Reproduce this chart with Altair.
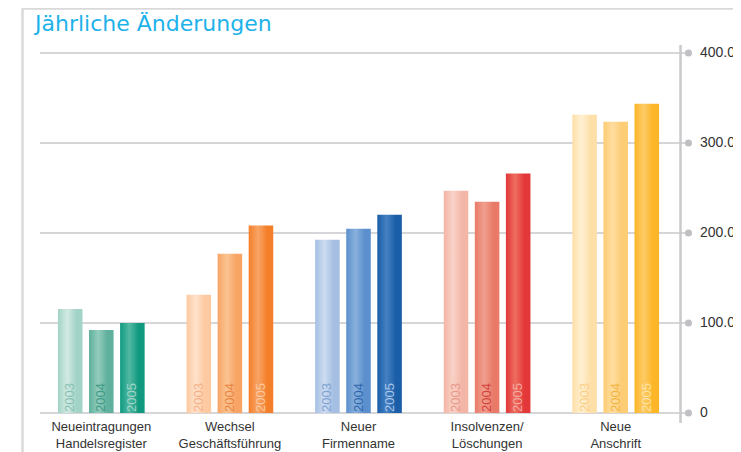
import altair as alt
import pandas as pd

categories = ["Neueintragungen\nHandelsregister", "Wechsel\nGeschäftsführung", "Neuer\nFirmenname",
              "Insolvenzen/\nLöschungen", "Neue\nAnschrift"]
years = ["2003", "2004", "2005"]
values_2003 = [115600, 131400, 192600, 247000, 331400]
values_2004 = [92200, 177000, 204800, 234800, 323700]
values_2005 = [100000, 208400, 220300, 266000, 343700]
tick_values = [0, 100000, 200000, 300000, 400000]
tick_labels = ["0", "100.000", "200.000", "300.000", "400.000"]

# colors per category: (base, highlight) for 2003, 2004, 2005
bar_colors = [
    [("#a3d3c6", "#d2eae3"), ("#5fb09c", "#93ccbd"), ("#0f9a80", "#52b8a2")],
    [("#fdc9a0", "#fee2cc"), ("#f8a464", "#fbc493"), ("#f47f2a", "#f8a466")],
    [("#a5bfe2", "#cddcf0"), ("#5b8fcd", "#8ab1dd"), ("#1a5ea8", "#4580c2")],
    [("#f3b5a6", "#f9d2c7"), ("#e97a68", "#f19f8f"), ("#e3373a", "#ed6e5f")],
    [("#fddfa8", "#fff0d2"), ("#fdcc74", "#fedda0"), ("#fdb627", "#fdcb66")],
]
text_colors = [
    ["#86c2b1", "#3f9a84", "#9fd6c8"],
    ["#f6b085", "#ea8440", "#fcc9a0"],
    ["#7fa3d4", "#2e67ae", "#a9c4e8"],
    ["#e8998a", "#d2433c", "#f6aaa0"],
    ["#fbcf84", "#f4b43c", "#fee3a8"],
]

FONT_N = "Liberation Sans, Arial, sans-serif"
GRID = "#c9c9cb"

rows = []
for i, c in enumerate(categories):
    for j, y in enumerate(years):
        v = [values_2003, values_2004, values_2005][j][i]
        rows.append({"cat": c, "year": y, "value": v, "tc": text_colors[i][j]})
df = pd.DataFrame(rows)

x_enc = alt.X("cat:N", scale=alt.Scale(domain=categories, paddingInner=0, paddingOuter=0), axis=None)
xo_enc = alt.XOffset("year:N", scale=alt.Scale(domain=years, paddingInner=0.21, paddingOuter=0.674))
y_scale = alt.Scale(domain=[0, 400000])

ticks_df = pd.DataFrame({"v": tick_values, "lab": tick_labels})

frame_left = alt.Chart(ticks_df).mark_rule(color="#d9d9d9", strokeWidth=1.5).encode(
    x=alt.value(-14.5), y=alt.value(-44.5), y2=alt.value(420))
frame_top = alt.Chart(ticks_df).mark_rule(color="#d9d9d9", strokeWidth=1.5).encode(
    x=alt.value(-14.5), x2=alt.value(710), y=alt.value(-44.5))

grid = alt.Chart(ticks_df).mark_rule(color=GRID, strokeWidth=1.5).encode(
    y=alt.Y("v:Q", scale=y_scale, axis=None), x=alt.value(3), x2=alt.value(651))
axis_line = alt.Chart(ticks_df).mark_rule(color=GRID, strokeWidth=1.5).encode(
    x=alt.value(643.5), y=alt.value(-8), y2=alt.value(370))
dots = alt.Chart(ticks_df).mark_circle(color="#bfc0c4", opacity=1, size=50).encode(
    y=alt.Y("v:Q", scale=y_scale, axis=None), x=alt.value(651.5))
tick_text = alt.Chart(ticks_df).mark_text(align="left", baseline="middle", font=FONT_N,
                                          fontSize=14, color="#333333").encode(
    y=alt.Y("v:Q", scale=y_scale, axis=None), x=alt.value(663), text="lab:N")

bar_layers = []
for i, c in enumerate(categories):
    for j, yr in enumerate(years):
        base, hi = bar_colors[i][j]
        grad = alt.Gradient(gradient="linear", x1=0, x2=1, y1=0, y2=0, stops=[
            alt.GradientStop(offset=0, color=base),
            alt.GradientStop(offset=0.38, color=hi),
            alt.GradientStop(offset=0.75, color=base),
            alt.GradientStop(offset=1, color=base),
        ])
        sub = df[(df["cat"] == c) & (df["year"] == yr)]
        bar_layers.append(alt.Chart(sub).mark_bar(color=grad, opacity=1).encode(
            x=x_enc, xOffset=xo_enc,
            y=alt.Y("value:Q", scale=y_scale, axis=None)))

year_text = alt.Chart(df).mark_text(angle=270, align="left", baseline="middle", font=FONT_N,
                                    fontSize=13).encode(
    x=x_enc, xOffset=xo_enc, y=alt.value(359), text="year:N",
    color=alt.Color("tc:N", scale=None))

cat_df = pd.DataFrame({"cat": categories})
cat_text = alt.Chart(cat_df).mark_text(lineBreak="\n", lineHeight=17, baseline="alphabetic",
                                       font=FONT_N, fontSize=13, color="#333333").encode(
    x=x_enc, y=alt.value(378), text="cat:N")

title_df = pd.DataFrame({"t": ["Jährliche Änderungen"]})
title = alt.Chart(title_df).mark_text(align="left", baseline="alphabetic", font="DejaVu Sans",
                                      fontSize=22, color="#1db2ea").encode(
    x=alt.value(-2), y=alt.value(-22), text="t:N")

chart = alt.layer(frame_left, frame_top, grid, axis_line, dots, tick_text, *bar_layers,
                  year_text, cat_text, title).properties(
    width=643, height=360, autosize="none",
    padding={"left": 29, "top": 45, "right": 53, "bottom": 39},
).configure_view(stroke=None)

chart.save("out.html", embed_options={"renderer": "svg", "actions": False})
